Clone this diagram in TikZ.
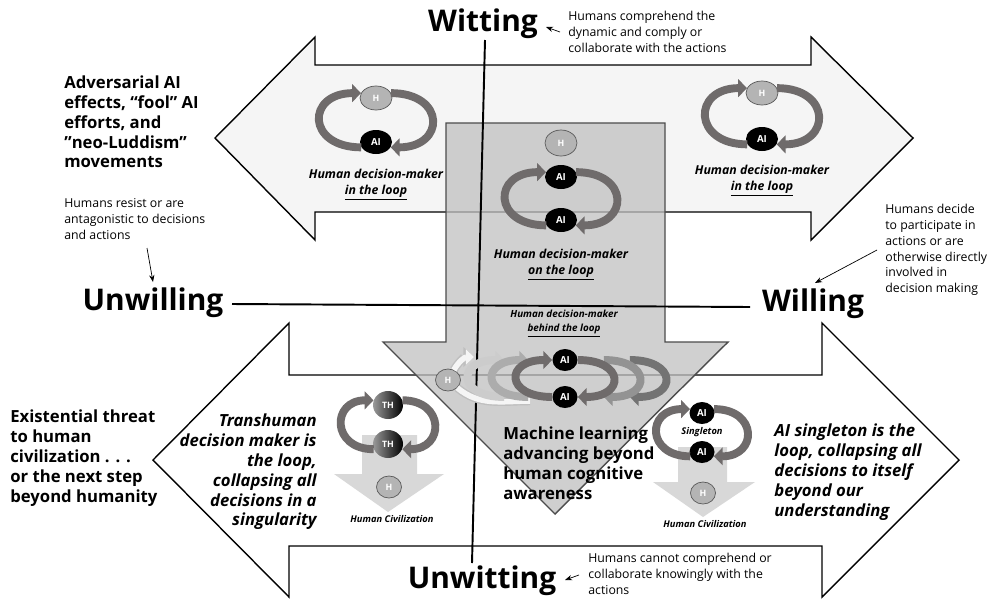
\documentclass[tikz,border=0pt]{standalone}
\usepackage{fontspec}
\setmainfont{Open Sans}
\usepackage{tikz}
\usetikzlibrary{arrows.meta, positioning, shapes.geometric, calc}

\definecolor{topfill}{HTML}{F5F5F5}
\definecolor{centergray}{HTML}{C0C0C0}
\definecolor{loopgray}{HTML}{6F6B6B}
\definecolor{hgray}{HTML}{B4B4B4}
\definecolor{civgray}{HTML}{D8D8D8}

\begin{document}
\begin{tikzpicture}[x=0.02cm, y=0.02cm,
    bigword/.style={font=\fontsize{17}{20}\selectfont\bfseries, inner sep=0pt},
    headline/.style={font=\fontsize{9.5}{11.3}\selectfont\bfseries, align=left, inner sep=0pt, anchor=west},
    slanted/.style={font=\fontsize{9.5}{11.3}\selectfont\bfseries\itshape, inner sep=0pt},
    remark/.style={font=\fontsize{7}{9}\selectfont, align=left, inner sep=0pt, anchor=west},
    caption/.style={font=\fontsize{7}{9}\selectfont\bfseries\itshape, align=center, inner sep=0pt},
    smallcaption/.style={font=\fontsize{5.6}{8}\selectfont\bfseries\itshape, align=center, inner sep=0pt},
    civcaption/.style={font=\fontsize{5.3}{6}\selectfont\bfseries\itshape, inner sep=0pt},
    hnode/.style={ellipse, draw=gray!70!black, fill=hgray, text=white, font=\fontsize{5}{5}\selectfont\bfseries,
      inner sep=0pt, minimum width=0.64cm, minimum height=0.48cm},
    ainode/.style={ellipse, fill=black, text=white, font=\fontsize{5.5}{5.5}\selectfont\bfseries,
      inner sep=0pt, minimum width=0.64cm, minimum height=0.48cm},
    small/.style={minimum width=0.5cm, minimum height=0.44cm},
    thnode/.style={ellipse, left color=gray!80, right color=black, text=white, font=\fontsize{5}{5}\selectfont\bfseries,
      inner sep=0pt, minimum width=0.6cm, minimum height=0.56cm},
    loopflow/.style={line width=4.5pt, draw=loopgray, -{Triangle[length=5pt,width=10pt]}},
    spread/.style={out distance=#1, in distance=#1},
    pointer/.style={line width=0.4pt, -{Stealth[length=4pt,width=3pt]}},
    axis/.style={line width=1.1pt}
  ]
\useasboundingbox (0,0) rectangle (1000,-599);

% the two double arrows
\draw[line width=0.8pt, fill=white] (153,-460) -- (289,-323) -- (289,-375) -- (822,-375) -- (822,-323)
  -- (959,-460) -- (822,-597) -- (822,-546) -- (289,-546) -- (289,-597) -- cycle;
\draw[line width=0.8pt, fill=topfill] (215,-138) -- (315,-37) -- (315,-65) -- (811,-65) -- (811,-37)
  -- (913,-138) -- (811,-240) -- (811,-212) -- (315,-212) -- (315,-240) -- cycle;

% central funnel
\draw[draw=gray!60!black, line width=0.8pt, fill=centergray, fill opacity=0.75]
  (446,-123) -- (665,-123) -- (665,-342) -- (728,-342) -- (555,-514) -- (383,-342) -- (446,-342) -- cycle;

% axes and their labels
\node[bigword] (witting) at (483,-24) {Witting};
\node[bigword] (unwitting) at (482,-581) {Unwitting};
\node[bigword] (unwilling) at (153,-303) {Unwilling};
\node[bigword] (willing) at (813,-304) {Willing};
\coordinate (vtop) at (485,-40);
\coordinate (vbot) at (472,-563);
\coordinate (hleft) at (232,-304);
\coordinate (hright) at (750,-307);
\draw[axis] (vtop) -- (vbot);
\draw[axis] (hleft) -- (hright);

% side texts
\node[headline] (advers) at (64,-122) {Adversarial AI\\effects, “fool” AI\\efforts, and\\”neo-Luddism”\\movements};
\node[remark] (resist) at (64,-219) {Humans resist or are\\antagonistic to decisions\\and actions};
\node[remark] (comprehend) at (568,-32) {Humans comprehend the\\dynamic and comply or\\collaborate with the actions};
\node[remark] (decide) at (885,-250) {Humans decide\\to participate in\\actions or are\\otherwise directly\\involved in\\decision making};
\node[remark] (cannot) at (588,-574) {Humans cannot comprehend or\\collaborate knowingly with the\\actions};
\node[headline] (exist) at (10,-458) {Existential threat\\to human\\civilization . . .\\or the next step\\beyond humanity};
\node[slanted, align=right, anchor=east] (trans) at (317,-472) {Transhuman\\decision maker is\\the loop,\\collapsing all\\decisions in a\\singularity};
\node[headline] (machine) at (503,-463) {Machine learning\\advancing beyond\\human cognitive\\awareness};
\node[slanted, align=left, anchor=west] (single) at (774,-472) {AI singleton is the\\loop, collapsing all\\decisions to itself\\beyond our\\understanding};

% pointers
\coordinate (p1) at (147,-248);
\coordinate (p2) at (153,-282);
\coordinate (p3) at (560,-32);
\coordinate (p4) at (546,-27);
\coordinate (p5) at (877,-250);
\coordinate (p6) at (815,-283);
\coordinate (p7) at (579,-575);
\coordinate (p8) at (565,-580);
\draw[pointer] (p1) -- (p2);
\draw[pointer] (p3) -- (p4);
\draw[pointer] (p5) -- (p6);
\draw[pointer] (p7) -- (p8);

% human in the loop (left)
\node[hnode] (h1) at (376,-98) {H};
\node[ainode] (ai1) at (376,-142) {AI};
\draw[loopflow] (ai1.200) to[out=180,in=180,spread=1.1cm] (h1.162);
\draw[loopflow] (h1.18) to[out=0,in=0,spread=1.1cm] (ai1.-20);
\node[caption] (cap1) at (376,-185) {Human decision-maker\\\underline{in the loop}};

% human in the loop (right)
\node[hnode] (h2) at (762,-93) {H};
\node[ainode] (ai2) at (762,-139) {AI};
\draw[loopflow] (ai2.200) to[out=180,in=180,spread=1.1cm] (h2.162);
\draw[loopflow] (h2.18) to[out=0,in=0,spread=1.1cm] (ai2.-20);
\node[caption] (cap2) at (762,-181) {Human decision-maker\\\underline{in the loop}};

% human on the loop
\node[hnode, minimum height=0.52cm] (h3) at (561,-143) {H};
\node[ainode] (ai3a) at (561,-177) {AI};
\node[ainode] (ai3b) at (561,-220) {AI};
\draw[loopflow] (ai3b.200) to[out=180,in=180,spread=1.08cm] (ai3a.162);
\draw[loopflow] (ai3a.18) to[out=0,in=0,spread=1.08cm] (ai3b.-20);
\node[caption] (cap3) at (561,-265) {Human decision-maker\\\underline{on the loop}};

% human behind the loop
\node[smallcaption] (cap4) at (564,-324) {Human decision-maker\\\underline{behind the loop}};
\node[hnode, small] (h4) at (448,-380) {H};
\node[ainode, small] (ai4a) at (565,-360) {AI};
\node[ainode, small] (ai4b) at (565,-397) {AI};
\coordinate (ghosttip) at (474,-357);
\coordinate (ghostend) at (530,-401);
\draw[line width=4.8pt, draw=gray!50] (h4.-40) to[out=-40,in=180] (ghostend);
\draw[line width=3.2pt, draw=gray!8] (h4.-40) to[out=-40,in=180] (ghostend);
\draw[line width=4.8pt, draw=gray!50, -{Triangle[length=6pt,width=11pt]}] (h4.60) to[out=60,in=180] (ghosttip);
\draw[line width=3.2pt, draw=gray!8, -{Triangle[length=4.6pt,width=8.4pt]}] (h4.60) to[out=60,in=180] (ghosttip);
\draw[loopflow, draw=gray!40] ([xshift=-0.96cm]ai4b.west) to[out=180,in=180,spread=0.95cm] ([xshift=-0.96cm]ai4a.west);
\draw[loopflow, draw=gray!65] ([xshift=-0.48cm]ai4b.west) to[out=180,in=180,spread=0.95cm] ([xshift=-0.48cm]ai4a.west);
\draw[loopflow] (ai4b.west) to[out=180,in=180,spread=0.95cm] (ai4a.west);
\draw[loopflow, draw=gray!90!black] ([xshift=1.04cm]ai4a.east) to[out=0,in=0,spread=0.95cm] ([xshift=1.04cm]ai4b.east);
\draw[loopflow, draw=gray!85] ([xshift=0.52cm]ai4a.east) to[out=0,in=0,spread=0.95cm] ([xshift=0.52cm]ai4b.east);
\draw[loopflow] (ai4a.east) to[out=0,in=0,spread=0.95cm] (ai4b.east);

% transhuman singularity
\fill[civgray] (362,-435) -- (417,-435) -- (417,-474) -- (444,-474) -- (388,-512) -- (334,-474) -- (362,-474) -- cycle;
\node[thnode] (th1) at (388,-405) {TH};
\node[thnode] (th2) at (388,-444) {TH};
\draw[loopflow] (th2.200) to[out=180,in=180,spread=0.85cm] (th1.162);
\draw[loopflow] (th1.18) to[out=0,in=0,spread=0.85cm] (th2.-20);
\node[hnode, small] (h6) at (389,-487) {H};
\node[civcaption] (cap6) at (392,-519) {Human Civilization};

% AI singleton
\fill[civgray] (678,-447) -- (727,-447) -- (727,-482) -- (755,-482) -- (703,-517) -- (653,-482) -- (678,-482) -- cycle;
\node[ainode, small] (ai5a) at (702,-413) {AI};
\node[ainode, small] (ai5b) at (702,-452) {AI};
\draw[loopflow] (ai5b.200) to[out=180,in=180,spread=0.88cm] (ai5a.162);
\draw[loopflow] (ai5a.18) to[out=0,in=0,spread=0.88cm] (ai5b.-20);
\node[civcaption] (singleton) at (702,-432) {Singleton};
\node[hnode, small] (h5) at (703,-493) {H};
\node[civcaption] (cap5) at (705,-524) {Human Civilization};

\end{tikzpicture}
\end{document}
